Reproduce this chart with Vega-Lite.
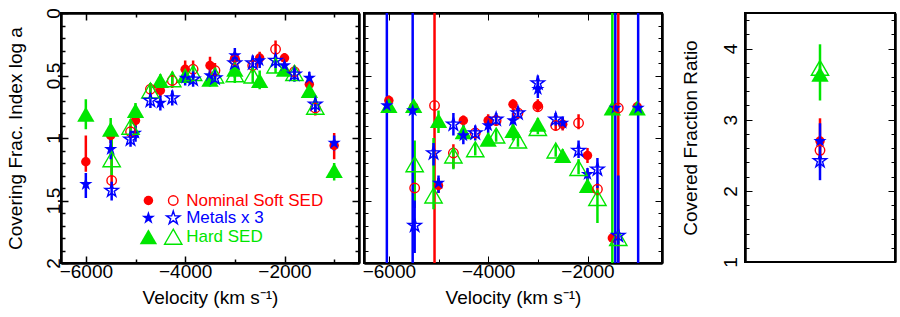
{
 "$schema": "https://vega.github.io/schema/vega-lite/v6.json",
 "padding": {"left": 5, "top": 6, "right": 5, "bottom": 3},
 "background": "white",
 "config": {
  "font": "Liberation Sans",
  "view": {"stroke": "black", "strokeWidth": 2},
  "axis": {"labelFont": "Liberation Sans", "titleFont": "Liberation Sans", "titleFontWeight": "normal", "labelColor": "black", "titleColor": "black", "labelFontSize": 19, "titleFontSize": 19}
 },
 "datasets": {
  "L": [
   {"s":"F","m":"Nominal Soft SED","v":-6000,"a":1.19,"lo":0.98,"hi":1.27},
   {"s":"F","m":"Nominal Soft SED","v":-5500,"a":0.98,"lo":0.92,"hi":1.04},
   {"s":"F","m":"Nominal Soft SED","v":-5000,"a":0.86,"lo":0.82,"hi":0.92},
   {"s":"F","m":"Nominal Soft SED","v":-4500,"a":0.62,"lo":0.57,"hi":0.67},
   {"s":"F","m":"Nominal Soft SED","v":-4000,"a":0.45,"lo":0.38,"hi":0.51},
   {"s":"F","m":"Nominal Soft SED","v":-3500,"a":0.42,"lo":0.35,"hi":0.48},
   {"s":"F","m":"Nominal Soft SED","v":-3000,"a":0.36,"lo":0.31,"hi":0.41},
   {"s":"F","m":"Nominal Soft SED","v":-2500,"a":0.36,"lo":0.31,"hi":0.42},
   {"s":"F","m":"Nominal Soft SED","v":-2000,"a":0.36,"lo":0.32,"hi":0.41},
   {"s":"F","m":"Nominal Soft SED","v":-1500,"a":0.57,"lo":0.52,"hi":0.62},
   {"s":"F","m":"Nominal Soft SED","v":-1000,"a":1.06,"lo":0.96,"hi":1.17},
   {"s":"O","m":"Nominal Soft SED","v":-5480,"a":1.34,"lo":1.0,"hi":1.4},
   {"s":"O","m":"Nominal Soft SED","v":-5100,"a":0.95,"lo":0.9,"hi":1.0},
   {"s":"O","m":"Nominal Soft SED","v":-4700,"a":0.61,"lo":0.56,"hi":0.66},
   {"s":"O","m":"Nominal Soft SED","v":-4260,"a":0.54,"lo":0.48,"hi":0.6},
   {"s":"O","m":"Nominal Soft SED","v":-3840,"a":0.45,"lo":0.38,"hi":0.52},
   {"s":"O","m":"Nominal Soft SED","v":-3400,"a":0.46,"lo":0.4,"hi":0.52},
   {"s":"O","m":"Nominal Soft SED","v":-3000,"a":0.38,"lo":0.33,"hi":0.44},
   {"s":"O","m":"Nominal Soft SED","v":-2640,"a":0.42,"lo":0.36,"hi":0.48},
   {"s":"O","m":"Nominal Soft SED","v":-2180,"a":0.29,"lo":0.22,"hi":0.37},
   {"s":"O","m":"Nominal Soft SED","v":-1800,"a":0.47,"lo":0.42,"hi":0.52},
   {"s":"O","m":"Nominal Soft SED","v":-1380,"a":0.76,"lo":0.7,"hi":0.82},
   {"s":"F","m":"Hard SED","v":-6000,"a":0.81,"lo":0.69,"hi":0.93},
   {"s":"F","m":"Hard SED","v":-5500,"a":0.93,"lo":0.84,"hi":1.02},
   {"s":"F","m":"Hard SED","v":-5000,"a":0.78,"lo":0.72,"hi":0.85},
   {"s":"F","m":"Hard SED","v":-4500,"a":0.54,"lo":0.49,"hi":0.6},
   {"s":"F","m":"Hard SED","v":-4000,"a":0.5,"lo":0.45,"hi":0.56},
   {"s":"F","m":"Hard SED","v":-3500,"a":0.53,"lo":0.47,"hi":0.59},
   {"s":"F","m":"Hard SED","v":-3000,"a":0.45,"lo":0.39,"hi":0.52},
   {"s":"F","m":"Hard SED","v":-2500,"a":0.54,"lo":0.46,"hi":0.61},
   {"s":"F","m":"Hard SED","v":-2000,"a":0.45,"lo":0.4,"hi":0.5},
   {"s":"F","m":"Hard SED","v":-1500,"a":0.62,"lo":0.57,"hi":0.67},
   {"s":"F","m":"Hard SED","v":-1000,"a":1.26,"lo":1.2,"hi":1.34},
   {"s":"O","m":"Hard SED","v":-5480,"a":1.17,"lo":0.96,"hi":1.3},
   {"s":"O","m":"Hard SED","v":-5100,"a":0.91,"lo":0.85,"hi":0.97},
   {"s":"O","m":"Hard SED","v":-4700,"a":0.62,"lo":0.56,"hi":0.68},
   {"s":"O","m":"Hard SED","v":-4260,"a":0.53,"lo":0.47,"hi":0.59},
   {"s":"O","m":"Hard SED","v":-3840,"a":0.48,"lo":0.42,"hi":0.54},
   {"s":"O","m":"Hard SED","v":-3400,"a":0.5,"lo":0.44,"hi":0.56},
   {"s":"O","m":"Hard SED","v":-3000,"a":0.49,"lo":0.43,"hi":0.56},
   {"s":"O","m":"Hard SED","v":-2640,"a":0.5,"lo":0.44,"hi":0.56},
   {"s":"O","m":"Hard SED","v":-2180,"a":0.42,"lo":0.37,"hi":0.48},
   {"s":"O","m":"Hard SED","v":-1800,"a":0.48,"lo":0.43,"hi":0.53},
   {"s":"O","m":"Hard SED","v":-1380,"a":0.75,"lo":0.69,"hi":0.81},
   {"s":"F","m":"Metals x 3","v":-6000,"a":1.37,"lo":1.28,"hi":1.48},
   {"s":"F","m":"Metals x 3","v":-5500,"a":1.09,"lo":1.0,"hi":1.17},
   {"s":"F","m":"Metals x 3","v":-5000,"a":0.96,"lo":0.9,"hi":1.03},
   {"s":"F","m":"Metals x 3","v":-4500,"a":0.72,"lo":0.66,"hi":0.78},
   {"s":"F","m":"Metals x 3","v":-4000,"a":0.52,"lo":0.46,"hi":0.58},
   {"s":"F","m":"Metals x 3","v":-3500,"a":0.5,"lo":0.44,"hi":0.56},
   {"s":"F","m":"Metals x 3","v":-3000,"a":0.34,"lo":0.28,"hi":0.4},
   {"s":"F","m":"Metals x 3","v":-2500,"a":0.38,"lo":0.33,"hi":0.44},
   {"s":"F","m":"Metals x 3","v":-2000,"a":0.42,"lo":0.37,"hi":0.47},
   {"s":"F","m":"Metals x 3","v":-1500,"a":0.52,"lo":0.47,"hi":0.57},
   {"s":"F","m":"Metals x 3","v":-1000,"a":1.04,"lo":0.98,"hi":1.1},
   {"s":"O","m":"Metals x 3","v":-5480,"a":1.42,"lo":1.35,"hi":1.5},
   {"s":"O","m":"Metals x 3","v":-5100,"a":1.01,"lo":0.95,"hi":1.07},
   {"s":"O","m":"Metals x 3","v":-4700,"a":0.7,"lo":0.64,"hi":0.76},
   {"s":"O","m":"Metals x 3","v":-4260,"a":0.68,"lo":0.62,"hi":0.74},
   {"s":"O","m":"Metals x 3","v":-3840,"a":0.53,"lo":0.47,"hi":0.59},
   {"s":"O","m":"Metals x 3","v":-3400,"a":0.52,"lo":0.46,"hi":0.58},
   {"s":"O","m":"Metals x 3","v":-3000,"a":0.4,"lo":0.34,"hi":0.46},
   {"s":"O","m":"Metals x 3","v":-2640,"a":0.4,"lo":0.34,"hi":0.46},
   {"s":"O","m":"Metals x 3","v":-2180,"a":0.38,"lo":0.33,"hi":0.44},
   {"s":"O","m":"Metals x 3","v":-1800,"a":0.49,"lo":0.44,"hi":0.55},
   {"s":"O","m":"Metals x 3","v":-1380,"a":0.73,"lo":0.66,"hi":0.8}
  ],
  "M": [
   {"s":"F","m":"Nominal Soft SED","v":-6000,"a":0.7,"lo":0.66,"hi":0.74},
   {"s":"F","m":"Nominal Soft SED","v":-5500,"a":0.75,"lo":0.71,"hi":0.79},
   {"s":"F","m":"Nominal Soft SED","v":-5000,"a":1.38,"lo":1.32,"hi":1.44},
   {"s":"F","m":"Nominal Soft SED","v":-4500,"a":0.86,"lo":0.82,"hi":0.9},
   {"s":"F","m":"Nominal Soft SED","v":-4000,"a":0.86,"lo":0.81,"hi":0.91},
   {"s":"F","m":"Nominal Soft SED","v":-3500,"a":0.73,"lo":0.69,"hi":0.78},
   {"s":"F","m":"Nominal Soft SED","v":-3000,"a":0.74,"lo":0.69,"hi":0.79},
   {"s":"F","m":"Nominal Soft SED","v":-2500,"a":0.89,"lo":0.84,"hi":0.94},
   {"s":"F","m":"Nominal Soft SED","v":-2000,"a":1.14,"lo":1.08,"hi":1.2},
   {"s":"F","m":"Nominal Soft SED","v":-1500,"a":1.8,"lo":1.76,"hi":1.84},
   {"s":"F","m":"Nominal Soft SED","v":-1000,"a":0.75,"lo":0.71,"hi":0.79},
   {"s":"O","m":"Nominal Soft SED","v":-5480,"a":1.4,"lo":1.26,"hi":1.56},
   {"s":"O","m":"Nominal Soft SED","v":-5080,"a":0.74,"lo":0,"hi":2},
   {"s":"O","m":"Nominal Soft SED","v":-4700,"a":1.12,"lo":1.05,"hi":1.24},
   {"s":"O","m":"Nominal Soft SED","v":-4260,"a":0.96,"lo":0.92,"hi":1.0},
   {"s":"O","m":"Nominal Soft SED","v":-3840,"a":0.86,"lo":0.82,"hi":0.9},
   {"s":"O","m":"Nominal Soft SED","v":-3400,"a":0.8,"lo":0.76,"hi":0.84},
   {"s":"O","m":"Nominal Soft SED","v":-3000,"a":0.75,"lo":0.71,"hi":0.79},
   {"s":"O","m":"Nominal Soft SED","v":-2640,"a":0.9,"lo":0.86,"hi":0.94},
   {"s":"O","m":"Nominal Soft SED","v":-2180,"a":0.88,"lo":0.81,"hi":0.93},
   {"s":"O","m":"Nominal Soft SED","v":-1800,"a":1.41,"lo":1.36,"hi":1.46},
   {"s":"O","m":"Nominal Soft SED","v":-1380,"a":0.76,"lo":0,"hi":2},
   {"s":"F","m":"Hard SED","v":-6000,"a":0.74,"lo":0.7,"hi":0.78},
   {"s":"F","m":"Hard SED","v":-5500,"a":0.74,"lo":0.7,"hi":0.78},
   {"s":"F","m":"Hard SED","v":-5000,"a":0.86,"lo":0.78,"hi":0.96},
   {"s":"F","m":"Hard SED","v":-4500,"a":0.95,"lo":0.9,"hi":1.0},
   {"s":"F","m":"Hard SED","v":-4000,"a":1.01,"lo":0.96,"hi":1.06},
   {"s":"F","m":"Hard SED","v":-3500,"a":0.94,"lo":0.88,"hi":1.02},
   {"s":"F","m":"Hard SED","v":-3000,"a":0.89,"lo":0.84,"hi":0.94},
   {"s":"F","m":"Hard SED","v":-2500,"a":1.14,"lo":1.09,"hi":1.19},
   {"s":"F","m":"Hard SED","v":-2000,"a":1.38,"lo":1.32,"hi":1.44},
   {"s":"F","m":"Hard SED","v":-1500,"a":0.76,"lo":0,"hi":2},
   {"s":"F","m":"Hard SED","v":-1000,"a":0.76,"lo":0.72,"hi":0.8},
   {"s":"O","m":"Hard SED","v":-5480,"a":1.21,"lo":1.02,"hi":1.55},
   {"s":"O","m":"Hard SED","v":-5100,"a":1.46,"lo":1.0,"hi":1.57},
   {"s":"O","m":"Hard SED","v":-4700,"a":1.14,"lo":1.08,"hi":1.25},
   {"s":"O","m":"Hard SED","v":-4260,"a":1.09,"lo":1.04,"hi":1.14},
   {"s":"O","m":"Hard SED","v":-3840,"a":0.98,"lo":0.93,"hi":1.03},
   {"s":"O","m":"Hard SED","v":-3400,"a":1.02,"lo":0.97,"hi":1.07},
   {"s":"O","m":"Hard SED","v":-3000,"a":0.92,"lo":0.87,"hi":0.97},
   {"s":"O","m":"Hard SED","v":-2640,"a":1.1,"lo":1.05,"hi":1.15},
   {"s":"O","m":"Hard SED","v":-2180,"a":1.24,"lo":1.17,"hi":1.29},
   {"s":"O","m":"Hard SED","v":-1800,"a":1.48,"lo":1.42,"hi":1.68},
   {"s":"O","m":"Hard SED","v":-1380,"a":1.8,"lo":1.76,"hi":1.84},
   {"s":"F","m":"Metals x 3","v":-6040,"a":0.74,"lo":0,"hi":2},
   {"s":"F","m":"Metals x 3","v":-5520,"a":0.78,"lo":0,"hi":2},
   {"s":"F","m":"Metals x 3","v":-5000,"a":1.36,"lo":1.3,"hi":1.44},
   {"s":"F","m":"Metals x 3","v":-4500,"a":0.98,"lo":0.9,"hi":1.05},
   {"s":"F","m":"Metals x 3","v":-4000,"a":0.9,"lo":0.85,"hi":0.96},
   {"s":"F","m":"Metals x 3","v":-3500,"a":0.86,"lo":0.8,"hi":0.92},
   {"s":"F","m":"Metals x 3","v":-3000,"a":0.61,"lo":0.55,"hi":0.68},
   {"s":"F","m":"Metals x 3","v":-2500,"a":0.88,"lo":0.83,"hi":0.93},
   {"s":"F","m":"Metals x 3","v":-2000,"a":1.29,"lo":1.24,"hi":1.34},
   {"s":"F","m":"Metals x 3","v":-1440,"a":0.76,"lo":0,"hi":2},
   {"s":"F","m":"Metals x 3","v":-980,"a":0.76,"lo":0,"hi":2},
   {"s":"O","m":"Metals x 3","v":-5480,"a":1.7,"lo":1.5,"hi":1.92},
   {"s":"O","m":"Metals x 3","v":-5100,"a":1.12,"lo":1.04,"hi":1.22},
   {"s":"O","m":"Metals x 3","v":-4700,"a":0.89,"lo":0.8,"hi":0.98},
   {"s":"O","m":"Metals x 3","v":-4260,"a":0.96,"lo":0.9,"hi":1.02},
   {"s":"O","m":"Metals x 3","v":-3840,"a":0.85,"lo":0.8,"hi":0.9},
   {"s":"O","m":"Metals x 3","v":-3400,"a":0.8,"lo":0.75,"hi":0.85},
   {"s":"O","m":"Metals x 3","v":-3000,"a":0.56,"lo":0.5,"hi":0.62},
   {"s":"O","m":"Metals x 3","v":-2640,"a":0.85,"lo":0.8,"hi":0.9},
   {"s":"O","m":"Metals x 3","v":-2180,"a":1.1,"lo":1.02,"hi":1.16},
   {"s":"O","m":"Metals x 3","v":-1800,"a":1.25,"lo":1.16,"hi":1.4},
   {"s":"O","m":"Metals x 3","v":-1380,"a":1.78,"lo":1.3,"hi":2.0}
  ],
  "R": [
   {"s":"F","m":"Nominal Soft SED","r":2.7,"lo":2.45,"hi":3.02},
   {"s":"O","m":"Nominal Soft SED","r":2.57,"lo":2.5,"hi":2.65},
   {"s":"F","m":"Hard SED","r":3.64,"lo":3.27,"hi":4.06},
   {"s":"O","m":"Hard SED","r":3.73,"lo":3.66,"hi":3.8},
   {"s":"F","m":"Metals x 3","r":2.7,"lo":2.15,"hi":2.95},
   {"s":"O","m":"Metals x 3","r":2.42,"lo":2.32,"hi":2.52}
  ],
  "LEG": [
   {"m":"Nominal Soft SED","a":1.5},
   {"m":"Metals x 3","a":1.64},
   {"m":"Hard SED","a":1.79}
  ]
 },
 "spacing": 16,
 "hconcat": [
  {
   "spacing": 0,
   "hconcat": [
    {
     "width": 298, "height": 250,
     "data": {"name": "L"},
     "resolve": {"scale": {"x": "independent", "y": "independent"}},
     "layer": [
      {
       "mark": {"type": "rule", "strokeWidth": 2.5},
       "encoding": {
        "x": {"field": "v", "type": "quantitative", "scale": {"domain": [-6500, -500], "nice": false, "zero": false},
         "axis": {"orient": "bottom", "values": [-6000,-4000,-2000], "labelExpr": "format(datum.value, '')", "grid": false, "domainColor": "black", "domainWidth": 2, "tickColor": "black", "tickWidth": 1.5, "tickSize": -7, "labelPadding": 6, "title": "Velocity (km s⁻¹)", "titlePadding": 7}},
        "y": {"field": "lo", "type": "quantitative", "scale": {"domain": [0, 2], "nice": false, "zero": false, "reverse": true},
         "axis": {"orient": "left", "values": [0,0.5,1,1.5,2], "labelExpr": "format(datum.value, '')", "grid": false, "domainColor": "black", "domainWidth": 2, "tickColor": "black", "tickWidth": 1.5, "tickSize": -7, "labelFlush": false, "labelAngle": 270, "labelAlign": "center", "labelBaseline": "middle", "labelPadding": 15, "title": "Covering Frac. Index log a", "titlePadding": 19}},
        "y2": {"field": "hi"},
        "color": {"field": "m", "type": "nominal", "scale": {"domain": ["Nominal Soft SED", "Metals x 3", "Hard SED"], "range": ["#ff0000", "#0000ff", "#00e600"]}, "legend": null}
       }
      },
      {
       "transform": [{"filter": "datum.s === 'F'"}],
       "mark": {"type": "point", "filled": true, "opacity": 1},
       "encoding": {
        "x": {"field": "v", "type": "quantitative", "scale": {"domain": [-6500, -500], "nice": false, "zero": false},
         "axis": {"orient": "bottom", "values": [-5000,-3000,-1000], "labels": false, "title": null, "grid": false, "domainColor": "black", "domainWidth": 2, "tickColor": "black", "tickWidth": 1.5, "tickSize": -4}},
        "y": {"field": "a", "type": "quantitative", "scale": {"domain": [0, 2], "nice": false, "zero": false, "reverse": true},
         "axis": {"orient": "left", "values": [0.1,0.2,0.3,0.4,0.6,0.7,0.8,0.9,1.1,1.2,1.3,1.4,1.6,1.7,1.8,1.9], "labels": false, "title": null, "grid": false, "domainColor": "black", "domainWidth": 2, "tickColor": "black", "tickWidth": 1.5, "tickSize": -4}},
        "color": {"field": "m", "type": "nominal", "legend": null},
        "shape": {"field": "m", "type": "nominal", "scale": {"domain": ["Nominal Soft SED", "Metals x 3", "Hard SED"], "range": ["circle", "M0,-1L0.225,-0.309L0.951,-0.309L0.363,0.118L0.588,0.809L0,0.382L-0.588,0.809L-0.363,0.118L-0.951,-0.309L-0.225,-0.309Z", "triangle-up"]}, "legend": null},
        "size": {"field": "m", "type": "nominal", "scale": {"domain": ["Nominal Soft SED", "Metals x 3", "Hard SED"], "range": [90, 300, 150]}, "legend": null}
       }
      },
      {
       "transform": [{"filter": "datum.s === 'O'"}],
       "mark": {"type": "point", "filled": false, "opacity": 1, "strokeWidth": 1.4},
       "encoding": {
        "x": {"field": "v", "type": "quantitative", "scale": {"domain": [-6500, -500], "nice": false, "zero": false},
         "axis": {"orient": "top", "values": [-6000,-4000,-2000], "labels": false, "title": null, "grid": false, "domainColor": "black", "domainWidth": 2, "tickColor": "black", "tickWidth": 1.5, "tickSize": -7}},
        "y": {"field": "a", "type": "quantitative", "scale": {"domain": [0, 2], "nice": false, "zero": false, "reverse": true},
         "axis": {"orient": "right", "values": [0,0.5,1,1.5,2], "labels": false, "title": null, "grid": false, "domainColor": "black", "domainWidth": 2, "tickColor": "black", "tickWidth": 1.5, "tickSize": -7}},
        "color": {"field": "m", "type": "nominal", "legend": null},
        "shape": {"field": "m", "type": "nominal", "legend": null},
        "size": {"field": "m", "type": "nominal", "legend": null}
       }
      },
      {
       "data": {"name": "LEG"},
       "mark": {"type": "point", "filled": true, "opacity": 1},
       "encoding": {
        "x": {"datum": -4740, "type": "quantitative", "scale": {"domain": [-6500, -500], "nice": false, "zero": false},
         "axis": {"orient": "top", "values": [-5000,-3000,-1000], "labels": false, "title": null, "grid": false, "domainColor": "black", "domainWidth": 2, "tickColor": "black", "tickWidth": 1.5, "tickSize": -4}},
        "y": {"field": "a", "type": "quantitative", "scale": {"domain": [0, 2], "nice": false, "zero": false, "reverse": true},
         "axis": {"orient": "right", "values": [0.1,0.2,0.3,0.4,0.6,0.7,0.8,0.9,1.1,1.2,1.3,1.4,1.6,1.7,1.8,1.9], "labels": false, "title": null, "grid": false, "domainColor": "black", "domainWidth": 2, "tickColor": "black", "tickWidth": 1.5, "tickSize": -4}},
        "color": {"field": "m", "type": "nominal", "legend": null},
        "shape": {"field": "m", "type": "nominal", "legend": null},
        "size": {"field": "m", "type": "nominal", "legend": null}
       }
      },
      {
       "data": {"name": "LEG"},
       "mark": {"type": "point", "filled": false, "opacity": 1, "strokeWidth": 1.4},
       "encoding": {
        "x": {"datum": -4240, "type": "quantitative", "scale": {"domain": [-6500, -500], "nice": false, "zero": false}, "axis": null},
        "y": {"field": "a", "type": "quantitative", "scale": {"domain": [0, 2], "nice": false, "zero": false, "reverse": true}, "axis": null},
        "color": {"field": "m", "type": "nominal", "legend": null},
        "shape": {"field": "m", "type": "nominal", "legend": null},
        "size": {"field": "m", "type": "nominal", "legend": null}
       }
      },
      {
       "data": {"name": "LEG"},
       "mark": {"type": "text", "align": "left", "baseline": "middle", "fontSize": 17, "font": "Liberation Sans"},
       "encoding": {
        "x": {"datum": -3980, "type": "quantitative", "scale": {"domain": [-6500, -500], "nice": false, "zero": false}, "axis": null},
        "y": {"field": "a", "type": "quantitative", "scale": {"domain": [0, 2], "nice": false, "zero": false, "reverse": true}, "axis": null},
        "text": {"field": "m"},
        "color": {"field": "m", "type": "nominal", "legend": null}
       }
      }
     ]
    },
    {
     "width": 298, "height": 250,
     "data": {"name": "M"},
     "resolve": {"scale": {"x": "independent", "y": "independent"}},
     "layer": [
      {
       "mark": {"type": "rule", "strokeWidth": 2.5},
       "encoding": {
        "x": {"field": "v", "type": "quantitative", "scale": {"domain": [-6500, -500], "nice": false, "zero": false},
         "axis": {"orient": "bottom", "values": [-6000,-4000,-2000], "labelExpr": "format(datum.value, '')", "grid": false, "domainColor": "black", "domainWidth": 2, "tickColor": "black", "tickSize": -7, "labelPadding": 6, "title": "Velocity (km s⁻¹)", "titlePadding": 7}},
        "y": {"field": "lo", "type": "quantitative", "scale": {"domain": [0, 2], "nice": false, "zero": false, "reverse": true},
         "axis": {"orient": "left", "values": [0,0.5,1,1.5,2], "labels": false, "title": null, "grid": false, "domainColor": "black", "domainWidth": 2, "tickColor": "black", "tickSize": -7}},
        "y2": {"field": "hi"},
        "color": {"field": "m", "type": "nominal", "legend": null}
       }
      },
      {
       "transform": [{"filter": "datum.s === 'F'"}],
       "mark": {"type": "point", "filled": true, "opacity": 1},
       "encoding": {
        "x": {"field": "v", "type": "quantitative", "scale": {"domain": [-6500, -500], "nice": false, "zero": false},
         "axis": {"orient": "bottom", "values": [-5000,-3000,-1000], "labels": false, "title": null, "grid": false, "domainColor": "black", "domainWidth": 2, "tickColor": "black", "tickSize": -4}},
        "y": {"field": "a", "type": "quantitative", "scale": {"domain": [0, 2], "nice": false, "zero": false, "reverse": true},
         "axis": {"orient": "left", "values": [0.1,0.2,0.3,0.4,0.6,0.7,0.8,0.9,1.1,1.2,1.3,1.4,1.6,1.7,1.8,1.9], "labels": false, "title": null, "grid": false, "domainColor": "black", "domainWidth": 2, "tickColor": "black", "tickSize": -4}},
        "color": {"field": "m", "type": "nominal", "legend": null},
        "shape": {"field": "m", "type": "nominal", "legend": null},
        "size": {"field": "m", "type": "nominal", "legend": null}
       }
      },
      {
       "transform": [{"filter": "datum.s === 'O'"}],
       "mark": {"type": "point", "filled": false, "opacity": 1, "strokeWidth": 1.4},
       "encoding": {
        "x": {"field": "v", "type": "quantitative", "scale": {"domain": [-6500, -500], "nice": false, "zero": false},
         "axis": {"orient": "top", "values": [-6000,-4000,-2000], "labels": false, "title": null, "grid": false, "domainColor": "black", "domainWidth": 2, "tickColor": "black", "tickSize": -7}},
        "y": {"field": "a", "type": "quantitative", "scale": {"domain": [0, 2], "nice": false, "zero": false, "reverse": true},
         "axis": {"orient": "right", "values": [0,0.5,1,1.5,2], "labels": false, "title": null, "grid": false, "domainColor": "black", "domainWidth": 2, "tickColor": "black", "tickSize": -7}},
        "color": {"field": "m", "type": "nominal", "legend": null},
        "shape": {"field": "m", "type": "nominal", "legend": null},
        "size": {"field": "m", "type": "nominal", "legend": null}
       }
      },
      {
       "transform": [{"filter": "datum.s === 'F'"}],
       "mark": {"type": "point", "opacity": 0},
       "encoding": {
        "x": {"field": "v", "type": "quantitative", "scale": {"domain": [-6500, -500], "nice": false, "zero": false},
         "axis": {"orient": "top", "values": [-5000,-3000,-1000], "labels": false, "title": null, "grid": false, "domainColor": "black", "domainWidth": 2, "tickColor": "black", "tickSize": -4}},
        "y": {"field": "a", "type": "quantitative", "scale": {"domain": [0, 2], "nice": false, "zero": false, "reverse": true},
         "axis": {"orient": "right", "values": [0.1,0.2,0.3,0.4,0.6,0.7,0.8,0.9,1.1,1.2,1.3,1.4,1.6,1.7,1.8,1.9], "labels": false, "title": null, "grid": false, "domainColor": "black", "domainWidth": 2, "tickColor": "black", "tickSize": -4}}
       }
      }
     ]
    }
   ]
  },
  {
   "width": 150, "height": 249,
   "data": {"name": "R"},
   "resolve": {"scale": {"x": "independent", "y": "independent"}},
   "layer": [
    {
     "mark": {"type": "rule", "strokeWidth": 2.5},
     "encoding": {
      "x": {"datum": 1, "type": "quantitative", "scale": {"domain": [0, 2], "nice": false, "zero": false}, "axis": null},
      "y": {"field": "lo", "type": "quantitative", "scale": {"domain": [1, 4.5], "nice": false, "zero": false},
       "axis": {"orient": "left", "values": [1,2,3,4], "labelExpr": "format(datum.value, '')", "grid": false, "domainColor": "black", "domainWidth": 2, "tickColor": "black", "tickSize": -7, "labelAngle": 270, "labelAlign": "center", "labelBaseline": "middle", "labelPadding": 22, "title": "Covered Fraction Ratio", "titlePadding": 21}},
      "y2": {"field": "hi"},
      "color": {"field": "m", "type": "nominal", "legend": null}
     }
    },
    {
     "transform": [{"filter": "datum.s === 'F'"}],
     "mark": {"type": "point", "filled": true, "opacity": 1},
     "encoding": {
      "x": {"datum": 1, "type": "quantitative", "scale": {"domain": [0, 2], "nice": false, "zero": false}, "axis": null},
      "y": {"field": "r", "type": "quantitative", "scale": {"domain": [1, 4.5], "nice": false, "zero": false},
       "axis": {"orient": "left", "values": [1.2,1.4,1.6,1.8,2.2,2.4,2.6,2.8,3.2,3.4,3.6,3.8,4.2,4.4], "labels": false, "title": null, "grid": false, "domainColor": "black", "domainWidth": 2, "tickColor": "black", "tickSize": -4}},
      "color": {"field": "m", "type": "nominal", "legend": null},
      "shape": {"field": "m", "type": "nominal", "legend": null},
      "size": {"field": "m", "type": "nominal", "legend": null}
     }
    },
    {
     "transform": [{"filter": "datum.s === 'O'"}],
     "mark": {"type": "point", "filled": false, "opacity": 1, "strokeWidth": 1.4},
     "encoding": {
      "x": {"datum": 1, "type": "quantitative", "scale": {"domain": [0, 2], "nice": false, "zero": false}, "axis": null},
      "y": {"field": "r", "type": "quantitative", "scale": {"domain": [1, 4.5], "nice": false, "zero": false},
       "axis": {"orient": "right", "values": [1,2,3,4], "labels": false, "title": null, "grid": false, "domainColor": "black", "domainWidth": 2, "tickColor": "black", "tickSize": -7}},
      "color": {"field": "m", "type": "nominal", "legend": null},
      "shape": {"field": "m", "type": "nominal", "legend": null},
      "size": {"field": "m", "type": "nominal", "legend": null}
     }
    },
    {
     "transform": [{"filter": "datum.s === 'F'"}],
     "mark": {"type": "point", "opacity": 0},
     "encoding": {
      "x": {"datum": 1, "type": "quantitative", "scale": {"domain": [0, 2], "nice": false, "zero": false}, "axis": null},
      "y": {"field": "r", "type": "quantitative", "scale": {"domain": [1, 4.5], "nice": false, "zero": false},
       "axis": {"orient": "right", "values": [1.2,1.4,1.6,1.8,2.2,2.4,2.6,2.8,3.2,3.4,3.6,3.8,4.2,4.4], "labels": false, "title": null, "grid": false, "domainColor": "black", "domainWidth": 2, "tickColor": "black", "tickSize": -4}}
     }
    }
   ]
  }
 ]
}
